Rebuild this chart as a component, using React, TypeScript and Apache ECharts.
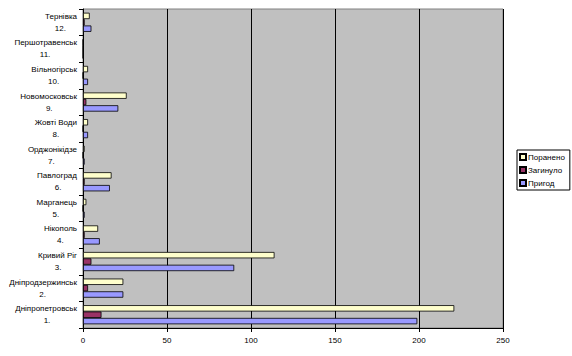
import React, { useEffect, useRef } from "react";
import * as echarts from "echarts";

const cities = [
  "Дніпропетровськ",
  "Дніпродзержинськ",
  "Кривий Ріг",
  "Нікополь",
  "Марганець",
  "Павлоград",
  "Орджонікідзе",
  "Жовті Води",
  "Новомосковськ",
  "Вільногірськ",
  "Першотравенськ",
  "Тернівка",
];
const numbers = ["1.", "2.", "3.", "4.", "5.", "6.", "7.", "8.", "9.", "10.", "11.", "12."];
const seriesNames = ["Поранено", "Загинуло", "Пригод"];
const injured = [221, 24, 114, 9, 2, 17, 1, 3, 26, 3, 0, 4];
const killed = [11, 3, 5, 1, 0, 1, 0, 0, 2, 0, 0, 1];
const accidents = [199, 24, 90, 10, 1, 16, 1, 3, 21, 3, 0, 5];
const xTicks = [0, 50, 100, 150, 200, 250];

const FONT = "Liberation Sans, Arial, sans-serif";

export default function App() {
  const ref = useRef<HTMLDivElement>(null);
  useEffect(() => {
    if (!ref.current) return;
    const chart = echarts.init(ref.current, undefined, { renderer: "svg" });
    const canvas = document.createElement("canvas");
    const ctx = canvas.getContext("2d")!;
    ctx.font = "8px " + FONT;
    const sp = ctx.measureText("\u00a0").width || 2.2;
    // second line (number) padded with no-break spaces so it sits centred under the name
    const categories = cities.map((c, i) => {
      const w = ctx.measureText(c).width;
      const wb = ctx.measureText(numbers[i]).width;
      const n = Math.max(0, Math.round((w - wb) / 2 / sp));
      return c + "\n" + numbers[i] + "\u00a0".repeat(n);
    });
    const barBase = {
      type: "bar" as const,
      barGap: "0%",
      barCategoryGap: "28%",
    };
    chart.setOption({
      animation: false,
      backgroundColor: "#ffffff",
      textStyle: { fontFamily: FONT },
      grid: {
        left: 83,
        right: 69,
        top: 9,
        bottom: 28,
        show: true,
        backgroundColor: "#c0c0c0",
        borderColor: "#808080",
        borderWidth: 1,
      },
      legend: {
        orient: "vertical",
        left: 517,
        top: 150,
        data: seriesNames,
        backgroundColor: "#ffffff",
        borderColor: "#000000",
        borderWidth: 1,
        padding: [3, 5, 3, 2],
        itemWidth: 6,
        itemHeight: 6,
        itemGap: 5,
        icon: "rect",
        textStyle: { fontSize: 8, fontFamily: FONT, color: "#000", padding: [0, 0, 0, -3] },
      },
      xAxis: {
        type: "value",
        min: 0,
        max: xTicks[xTicks.length - 1],
        interval: xTicks[1] - xTicks[0],
        axisLine: { show: true, lineStyle: { color: "#000", width: 1 } },
        axisTick: { show: true, length: 4, lineStyle: { color: "#000" } },
        axisLabel: { fontSize: 8, color: "#000", fontFamily: FONT, margin: 8 },
        splitLine: { show: true, lineStyle: { color: "#000", width: 1 } },
      },
      yAxis: {
        type: "category",
        data: categories,
        axisLine: { show: true, lineStyle: { color: "#000", width: 1 } },
        axisTick: { show: true, length: 4, lineStyle: { color: "#000" } },
        axisLabel: {
          fontSize: 8,
          color: "#000",
          fontFamily: FONT,
          margin: 6,
          align: "right",
          lineHeight: 12,
        },
        splitLine: { show: false },
      },
      series: [
        {
          ...barBase,
          name: seriesNames[0],
          data: injured,
          itemStyle: { color: "#ffffcc", borderColor: "#000", borderWidth: 0.8 },
        },
        {
          ...barBase,
          name: seriesNames[1],
          data: killed,
          itemStyle: { color: "#993366", borderColor: "#000", borderWidth: 0.8 },
        },
        {
          ...barBase,
          name: seriesNames[2],
          data: accidents,
          itemStyle: { color: "#9999ff", borderColor: "#000", borderWidth: 0.8 },
        },
      ],
    });
    return () => chart.dispose();
  }, []);
  return (
    <div
      ref={ref}
      style={{ position: "fixed", left: 0, top: 0, width: 572, height: 356 }}
    />
  );
}
